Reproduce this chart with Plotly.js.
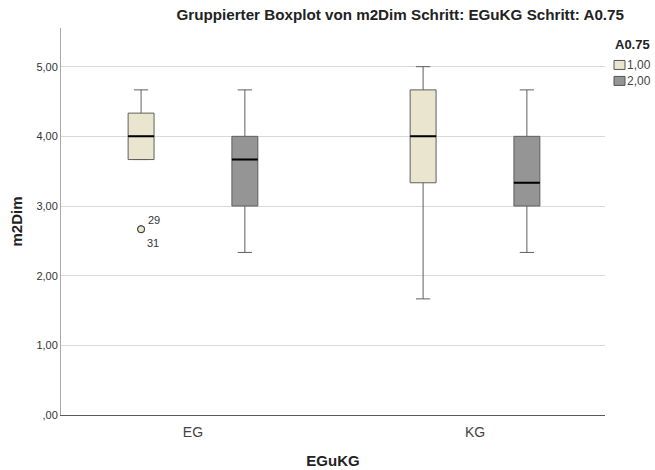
<!DOCTYPE html>
<html><head><meta charset="utf-8">
<script src="https://cdn.plot.ly/plotly-3.0.1.min.js"></script>
<style>html,body{margin:0;padding:0;background:#fff}#chart{width:655px;height:470px}</style>
</head><body><div id="chart"></div>
<script>
// ---- data ----
const categories = ['EG', 'KG'];
const seriesNames = ['1,00', '2,00'];
const legendTitle = 'A0.75';
// series 1,00
const lower1 = [3.6667, 1.6667];
const q1_1 = [3.6667, 3.3333];
const median1 = [4.0, 4.0];
const q3_1 = [4.3333, 4.6667];
const upper1 = [4.6667, 5.0];
const outliers1 = [[2.6667, 2.6667], []];
const outlierIds = ['29', '31'];
// series 2,00
const lower2 = [2.3333, 2.3333];
const q1_2 = [3.0, 3.0];
const median2 = [3.6667, 3.3333];
const q3_2 = [4.0, 4.0];
const upper2 = [4.6667, 4.6667];
// axis ticks
const yTickVals = [0, 1, 2, 3, 4, 5];
const yTickText = [',00', '1,00', '2,00', '3,00', '4,00', '5,00'];

const FONT = 'Liberation Sans, Arial, sans-serif';
const fills = ['#E9E5CE', '#959595'];

function boxTrace(name, grp, lf, q1, med, q3, uf, pts, fill) {
  const t = {
    type: 'box', name: name, x: categories, offsetgroup: grp,
    lowerfence: lf, q1: q1, median: med, q3: q3, upperfence: uf,
    fillcolor: fill,
    line: {color: '#5f5f5f', width: 1},
    whiskerwidth: 0.55,
    boxpoints: pts ? 'outliers' : false,
    jitter: 0, pointpos: 0,
    marker: {symbol: 'circle', size: 7, color: fill, line: {color: '#333', width: 1}},
    hoverinfo: 'skip', showlegend: false
  };
  if (pts) t.y = pts;
  return t;
}
// black median bar drawn as a flat box on top of the same group slot
function medianTrace(grp, med) {
  return {
    type: 'box', name: 'median ' + grp, x: categories, offsetgroup: grp,
    lowerfence: med, q1: med, median: med, q3: med, upperfence: med,
    fillcolor: 'rgba(0,0,0,0)', line: {color: '#000', width: 2},
    whiskerwidth: 0, boxpoints: false, hoverinfo: 'skip', showlegend: false
  };
}

const data = [
  boxTrace(seriesNames[0], 'a', lower1, q1_1, median1, q3_1, upper1, outliers1, fills[0]),
  boxTrace(seriesNames[1], 'b', lower2, q1_2, median2, q3_2, upper2, null, fills[1]),
  medianTrace('a', median1),
  medianTrace('b', median2)
];

const annotations = [
  {xref: 'x', yref: 'y', x: categories[0], y: outliers1[0][0], text: outlierIds[0],
   showarrow: false, xanchor: 'left', yanchor: 'middle', xshift: -47, yshift: 9,
   font: {family: FONT, size: 11, color: '#333'}},
  {xref: 'x', yref: 'y', x: categories[0], y: outliers1[0][1], text: outlierIds[1],
   showarrow: false, xanchor: 'left', yanchor: 'middle', xshift: -48, yshift: -14,
   font: {family: FONT, size: 11, color: '#333'}},
  // legend
  {xref: 'paper', yref: 'paper', x: 1.0147, y: 1.0, text: '<b>' + legendTitle + '</b>',
   showarrow: false, xanchor: 'left', yanchor: 'middle', yshift: -16,
   font: {family: FONT, size: 13, color: '#222'}},
  {xref: 'paper', yref: 'paper', x: 1.0147, y: 1.0, text: seriesNames[0],
   showarrow: false, xanchor: 'left', yanchor: 'middle', xshift: 12, yshift: -37,
   font: {family: FONT, size: 12, color: '#444'}},
  {xref: 'paper', yref: 'paper', x: 1.0147, y: 1.0, text: seriesNames[1],
   showarrow: false, xanchor: 'left', yanchor: 'middle', xshift: 12, yshift: -53,
   font: {family: FONT, size: 12, color: '#444'}}
];

const W = 544, L = 61, T = 28, H = 387.5;
function px(xp) { return (xp - L) / W; }
function py(yp) { return 1 - (yp - T) / H; }
const shapes = [
  {type: 'rect', xref: 'paper', yref: 'paper', x0: px(614), x1: px(625), y0: py(69.5), y1: py(60.5),
   fillcolor: fills[0], line: {color: '#555', width: 1}},
  {type: 'rect', xref: 'paper', yref: 'paper', x0: px(614), x1: px(625), y0: py(85.5), y1: py(76.5),
   fillcolor: fills[1], line: {color: '#555', width: 1}}
];

const layout = {
  width: 655, height: 470,
  margin: {l: 61, r: 50, t: 28, b: 54.5, pad: 0},
  paper_bgcolor: '#fff', plot_bgcolor: '#fff',
  font: {family: FONT, color: '#333'},
  title: {text: '<b>Gruppierter Boxplot von m2Dim Schritt: EGuKG Schritt: A0.75</b>',
          font: {family: FONT, size: 15.2, color: '#222'},
          xref: 'container', x: 0.611, xanchor: 'center', yref: 'container', y: 0.968, yanchor: 'middle'},
  boxmode: 'group', boxgap: 0.264, boxgroupgap: 0.75,
  showlegend: false,
  xaxis: {
    type: 'category', range: [-0.468, 1.461],
    showline: true, linecolor: '#5a5a5a', linewidth: 1,
    showgrid: false, zeroline: false, ticks: '',
    ticklabelstandoff: 4,
    tickfont: {family: FONT, size: 14, color: '#444'},
    title: {text: '<b>EGuKG</b>', font: {family: FONT, size: 15, color: '#222'}, standoff: 16},
    fixedrange: true
  },
  yaxis: {
    range: [0, 5.555],
    tickmode: 'array', tickvals: yTickVals, ticktext: yTickText,
    showline: true, linecolor: '#a8a8a8', linewidth: 1,
    showgrid: true, gridcolor: '#d9d9d9', gridwidth: 1,
    zeroline: false, ticks: '',
    tickfont: {family: FONT, size: 11, color: '#333'},
    title: {text: '<b>m2Dim</b>', font: {family: FONT, size: 15, color: '#222'}, standoff: 10},
    fixedrange: true
  },
  annotations: annotations,
  shapes: shapes
};

Plotly.newPlot('chart', data, layout, {staticPlot: true, displayModeBar: false});
</script>
</body></html>
